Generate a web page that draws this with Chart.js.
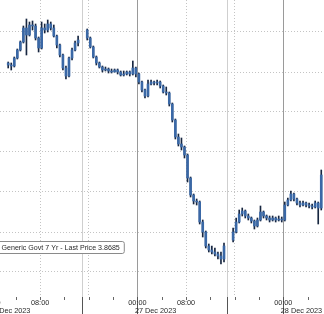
<!DOCTYPE html>
<html>
<head>
<meta charset="utf-8">
<script src="https://cdn.jsdelivr.net/npm/chart.js@4.4.1/dist/chart.umd.min.js"></script>
<style>
  html, body { margin: 0; padding: 0; background: #fff; }
  #wrap { width: 324px; height: 314px; position: relative; }
</style>
</head>
<body>
<div id="wrap"><canvas id="c"></canvas></div>
<script>
// Generic Govt 7 Yr, 30 min bars. hours counted from 26 Dec 2023 00:00
const barHours = 0.5;
const sessionStarts = [2.75, 15.75, 39.75];

// session 1 (26 Dec)
const opens1  = [3.9245,3.9235,3.923,3.927,3.931,3.935,3.942,3.9385,3.9435,3.943,3.937,3.932,3.942,3.941,3.944,3.942,3.938,3.9335,3.9285,3.922,3.918,3.927,3.931,3.9345];
const highs1  = [3.925,3.9245,3.9275,3.9315,3.9355,3.943,3.9465,3.945,3.9455,3.944,3.9375,3.945,3.944,3.946,3.945,3.9435,3.9385,3.934,3.929,3.923,3.9275,3.932,3.9355,3.938];
const lows1   = [3.922,3.921,3.9225,3.9265,3.9305,3.9345,3.9285,3.938,3.941,3.936,3.93,3.9315,3.9395,3.94,3.941,3.9375,3.932,3.9275,3.921,3.9165,3.9175,3.926,3.9305,3.933];
const closes1 = [3.9235,3.923,3.927,3.931,3.935,3.942,3.9385,3.9435,3.943,3.937,3.932,3.942,3.941,3.944,3.942,3.938,3.9335,3.9285,3.922,3.918,3.927,3.931,3.9345,3.936];

// session 2 (26 Dec evening - 27 Dec)
const opens2  = [3.941,3.937,3.9325,3.9275,3.9245,3.9225,3.921,3.9215,3.9205,3.92,3.921,3.92,3.9185,3.919,3.92,3.919,3.922,3.919,3.915,3.911,3.908,3.914,3.915,3.9145,3.915,3.913,3.91,3.9095,3.904,3.896,3.8875,3.884,3.8825,3.8785,3.867,3.8585,3.8555,3.855,3.845,3.84,3.833,3.831,3.83,3.829,3.828,3.8265];
const highs2  = [3.9415,3.9375,3.933,3.928,3.925,3.923,3.9225,3.922,3.9215,3.9215,3.9215,3.9205,3.9205,3.9205,3.9205,3.9255,3.9225,3.9195,3.9155,3.9115,3.916,3.916,3.9155,3.916,3.9155,3.9135,3.9125,3.91,3.9045,3.8965,3.889,3.887,3.883,3.879,3.8675,3.859,3.8565,3.8555,3.846,3.8405,3.834,3.833,3.832,3.83,3.83,3.8345];
const lows2   = [3.936,3.932,3.927,3.9235,3.922,3.92,3.9205,3.9195,3.9195,3.92,3.919,3.918,3.918,3.9185,3.918,3.9185,3.9175,3.914,3.91,3.907,3.9075,3.9135,3.9135,3.9135,3.912,3.9095,3.9085,3.903,3.895,3.8865,3.883,3.881,3.877,3.865,3.8575,3.854,3.8535,3.844,3.8375,3.832,3.83,3.829,3.828,3.8265,3.824,3.825];
const closes2 = [3.937,3.9325,3.9275,3.9245,3.9225,3.921,3.9215,3.9205,3.92,3.921,3.92,3.9185,3.919,3.92,3.919,3.922,3.919,3.915,3.911,3.908,3.914,3.915,3.9145,3.915,3.913,3.91,3.9095,3.904,3.896,3.8875,3.884,3.8825,3.8785,3.867,3.8585,3.8555,3.855,3.845,3.84,3.833,3.831,3.83,3.829,3.828,3.8265,3.833];

// session 3 (27 Dec evening - 28 Dec)
const opens3  = [3.836,3.84,3.845,3.849,3.8505,3.848,3.847,3.8455,3.843,3.846,3.85,3.848,3.847,3.846,3.847,3.846,3.8465,3.846,3.8535,3.856,3.859,3.8565,3.8545,3.8535,3.8545,3.8535,3.853,3.8525,3.8545,3.852];
const highs3  = [3.842,3.847,3.851,3.852,3.851,3.849,3.8475,3.846,3.847,3.853,3.8505,3.8485,3.848,3.848,3.8475,3.848,3.8475,3.855,3.857,3.8605,3.8595,3.857,3.8555,3.8555,3.855,3.8545,3.854,3.8555,3.855,3.871];
const lows3   = [3.835,3.8395,3.8445,3.848,3.847,3.846,3.8445,3.8415,3.8425,3.8455,3.847,3.846,3.845,3.8455,3.845,3.8455,3.845,3.8455,3.853,3.8555,3.8555,3.8535,3.8525,3.853,3.8525,3.852,3.8515,3.852,3.844,3.851];
const closes3 = [3.84,3.845,3.849,3.8505,3.848,3.847,3.8455,3.843,3.846,3.85,3.848,3.847,3.846,3.847,3.846,3.8465,3.846,3.8535,3.856,3.859,3.8565,3.8545,3.8535,3.8545,3.8535,3.853,3.8525,3.8545,3.852,3.8685];

const lastPrice = 3.8685;
const legendText = 'Generic Govt 7 Yr - Last Price ' + lastPrice;

// axis marks (hours)
const labelHours = [0, 8, 24, 32, 48];
const labelTexts = ['00:00', '08:00', '00:00', '08:00', '00:00'];
const dateHours = [0, 24, 48];
const dateTexts = ['26 Dec 2023', '27 Dec 2023', '28 Dec 2023'];
const dayBreaks = [24, 48];
const sessionBreaks = [14.9, 38.75];

const sessions = [
  [opens1, highs1, lows1, closes1],
  [opens2, highs2, lows2, closes2],
  [opens3, highs3, lows3, closes3]
];

const bodies = [];
const wicks = [];
sessions.forEach((s, k) => {
  s[3].forEach((c, i) => {
    const t = sessionStarts[k] + i * barHours;
    bodies.push({ x: t, y: [s[0][i], c] });
    wicks.push({ x: t, y: [s[2][i], s[1][i]] });
  });
});

const font = '"Liberation Sans", Arial, sans-serif';

const decorations = {
  id: 'decorations',
  beforeDatasetsDraw(chart) {
    const { ctx, chartArea, scales: { x } } = chart;
    ctx.save();
    ctx.lineWidth = 1;
    sessionBreaks.forEach(h => {
      const px = Math.round(x.getPixelForValue(h)) + 0.5;
      ctx.strokeStyle = '#cfcfcf';
      ctx.beginPath(); ctx.moveTo(px, chartArea.top); ctx.lineTo(px, chartArea.bottom); ctx.stroke();
    });
    dayBreaks.forEach(h => {
      const px = Math.round(x.getPixelForValue(h)) + 0.5;
      ctx.strokeStyle = '#9a9a9a';
      ctx.beginPath(); ctx.moveTo(px, chartArea.top); ctx.lineTo(px, chartArea.bottom); ctx.stroke();
    });
    ctx.restore();
  },
  afterDraw(chart) {
    const { ctx, chartArea, scales: { x } } = chart;
    const bottom = chartArea.bottom;
    const H = chart.height;
    ctx.save();
    ctx.lineWidth = 1;
    // small ticks every 4 hours
    ctx.strokeStyle = '#666';
    for (let h = 4; h <= 52; h += 4) {
      const px = Math.round(x.getPixelForValue(h)) + 0.5;
      ctx.beginPath(); ctx.moveTo(px, bottom); ctx.lineTo(px, bottom + 3); ctx.stroke();
    }
    // separators under the axis
    ctx.strokeStyle = '#555';
    sessionBreaks.concat(dayBreaks).forEach(h => {
      const px = Math.round(x.getPixelForValue(h)) + 0.5;
      ctx.beginPath(); ctx.moveTo(px, bottom); ctx.lineTo(px, H); ctx.stroke();
    });
    // labels
    ctx.fillStyle = '#2a2a2a';
    ctx.font = '7.3px ' + font;
    ctx.textBaseline = 'middle';
    ctx.textAlign = 'center';
    labelHours.forEach((h, i) => ctx.fillText(labelTexts[i], x.getPixelForValue(h), bottom + 6));
    ctx.textAlign = 'left';
    dateHours.forEach((h, i) => ctx.fillText(dateTexts[i], x.getPixelForValue(h) - 2.5, bottom + 13.5));

    // legend box
    ctx.font = '7.1px ' + font;
    const tw = ctx.measureText(legendText).width;
    const bx = -4, by = 241.5, bw = tw + 10, bh = 12;
    ctx.fillStyle = '#fff';
    ctx.strokeStyle = '#8a8a8a';
    ctx.beginPath();
    ctx.roundRect(bx, by, bw, bh, 2);
    ctx.fill(); ctx.stroke();
    ctx.fillStyle = '#2a2a2a';
    ctx.fillText(legendText, 1.5, by + bh / 2 + 0.5);
    ctx.restore();
  }
};

new Chart(document.getElementById('c'), {
  type: 'bar',
  data: {
    datasets: [
      {
        label: 'body',
        data: bodies,
        backgroundColor: '#3a68a6',
        borderWidth: 0,
        barThickness: 2,
        minBarLength: 1,
        grouped: false
      },
      {
        label: 'range',
        data: wicks,
        backgroundColor: '#172640',
        borderWidth: 0,
        barThickness: 1,
        minBarLength: 1,
        grouped: false
      }
    ]
  },
  options: {
    responsive: true,
    maintainAspectRatio: false,
    animation: false,
    devicePixelRatio: 1,
    layout: { padding: 0 },
    plugins: { legend: { display: false }, tooltip: { enabled: false } },
    scales: {
      x: {
        type: 'linear',
        min: 1.4,
        max: 54.7,
        offset: false,
        grid: { offset: false, color: '#c4c4c4', drawTicks: false },
        border: { display: false, dash: [1, 2] },
        ticks: { display: false },
        afterBuildTicks: s => { s.ticks = [8, 16, 32, 40].map(v => ({ value: v })); },
        afterFit: s => { s.height = 17; }
      },
      y: {
        min: 3.8075,
        max: 3.956,
        grid: { color: '#c4c4c4', drawTicks: false },
        border: { display: false, dash: [1, 2] },
        ticks: { display: false, stepSize: 0.02, includeBounds: false },
        afterFit: s => { s.width = 0; }
      }
    }
  },
  plugins: [decorations]
});
</script>
</body>
</html>
